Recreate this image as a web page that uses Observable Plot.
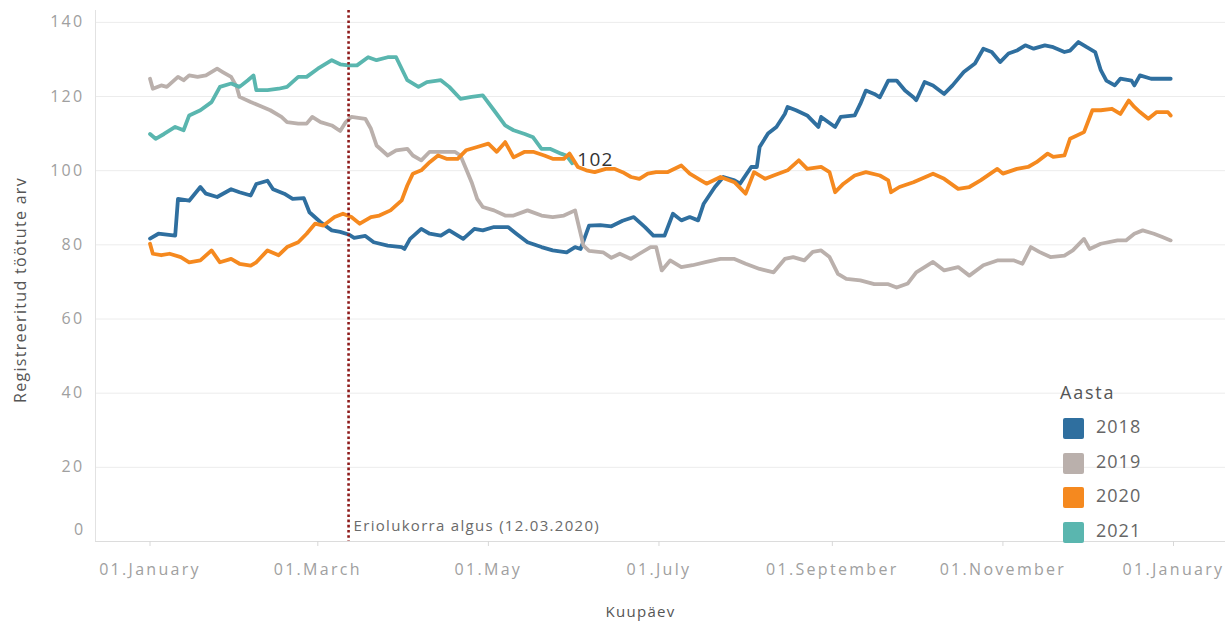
<!DOCTYPE html>
<html>
<head>
<meta charset="utf-8">
<script src="https://cdn.jsdelivr.net/npm/d3@7"></script>
<script src="https://cdn.jsdelivr.net/npm/@observablehq/plot@0.6"></script>
<style>
  body { margin: 0; background: #fff; }
  #wrap { position: relative; width: 1225px; height: 628px; overflow: hidden; }
  g[aria-label$="tick label"] text { letter-spacing: 2.3px; }
  g[aria-label="text"] text { letter-spacing: 1.3px; }
  .lg { position: absolute; font-family: "Open Sans", sans-serif; color: #555; white-space: nowrap; }
</style>
</head>
<body>
<div id="wrap"></div>
<script>
// ---- data (day index within reference year, value) ----
const years = ["2018", "2019", "2020", "2021"];
const colors = ["#2f6f9f", "#bab0ac", "#f5891f", "#5ab6af"];

const days2018 = [0,3,9,10,14,18,20,24,29,32,36,38,42,44,48,51,55,57,61,65,68,71,73,77,80,85,90,91,93,97,100,104,107,112,116,119,123,128,131,135,140,144,149,152,154,157,161,165,169,173,177,180,184,187,190,193,196,198,202,205,209,211,215,217,218,221,224,227,228,231,235,239,240,245,247,252,254,256,259,261,264,267,270,273,274,277,280,284,287,291,295,298,301,304,307,310,313,316,320,323,327,329,332,335,338,340,342,345,347,351,352,354,358,365];
const vals2018 = [81.7,83,82.5,92.4,91.9,95.6,93.8,92.9,95,94.2,93.3,96.4,97.3,95,93.8,92.4,92.6,88.8,86.1,83.9,83.5,82.8,81.9,82.4,80.7,79.8,79.4,78.9,81.6,84.3,83,82.5,83.9,81.6,84.3,83.9,84.8,84.8,83,80.7,79.4,78.5,78,79.4,78.9,85.2,85.3,85,86.5,87.5,84.8,82.5,82.5,88.4,86.6,87.5,86.6,91.1,95.6,98.3,97.4,96.5,101,101,106.4,110,111.8,115.3,117.2,116.3,114.9,111.8,114.5,111.8,114.5,114.9,118,121.6,120.7,119.8,124.3,124.3,121.6,119.8,119,123.9,123,120.7,123,126.6,128.9,132.9,132,129.3,131.6,132.4,133.8,132.9,133.8,133.3,132,132.4,134.7,133.3,132,127.1,124.3,123,124.8,124.3,123,125.7,124.8,124.8];

const days2019 = [0,1,4,6,10,12,14,17,20,24,26,29,31,32,36,39,43,47,49,53,56,58,61,65,68,70,72,77,79,81,85,88,92,94,97,100,104,109,111,113,115,117,119,123,127,130,135,140,144,148,152,153,155,157,162,165,168,172,175,179,181,183,186,190,194,199,204,209,213,218,223,227,230,234,237,240,243,246,249,254,259,264,267,271,274,280,284,289,293,298,303,309,312,315,318,322,327,330,334,336,340,346,349,352,355,359,362,365];
const vals2019 = [124.8,122.1,123,122.6,125.3,124.4,125.7,125.3,125.7,127.5,126.6,125.3,122.6,119.9,118.5,117.6,116.3,114.5,113.1,112.7,112.7,114.5,113.1,112.2,110.7,113.1,114.5,114,111.3,106.8,104.1,105.5,105.9,104.1,102.8,105.1,105.1,105.1,104.1,100.5,96.9,92.4,90.2,89.3,87.9,87.9,89.3,87.9,87.5,87.9,89.3,86.1,79.8,78.4,78,76.5,77.6,76.2,77.6,79.4,79.4,73.1,75.8,74,74.5,75.4,76.2,76.2,74.9,73.5,72.6,76.2,76.7,75.8,78.1,78.5,76.7,72.2,70.8,70.4,69.4,69.4,68.5,69.6,72.6,75.4,73.1,74,71.7,74.5,75.8,75.8,74.9,79.4,78.1,76.7,77.1,78.5,81.6,78.9,80.3,81.2,81.2,83,83.9,83,82.1,81.2];

const days2020 = [0,1,4,7,11,14,18,22,25,29,32,36,38,42,46,49,53,56,59,62,66,69,72,75,79,82,86,90,92,94,97,100,103,106,110,113,117,121,124,127,130,134,137,141,144,148,150,153,156,159,163,166,169,172,175,178,181,185,190,193,197,199,204,209,213,216,220,223,228,232,235,240,243,245,248,252,256,261,264,265,268,273,280,284,289,293,297,303,305,310,314,317,321,323,327,329,334,337,340,344,347,350,352,354,357,360,364,365];
const vals2020 = [80.3,77.6,77.2,77.6,76.7,75.3,75.8,78.5,75.3,76.2,74.9,74.4,75.3,78.5,77.2,79.4,80.7,83,85.7,85.2,87.5,88.4,87.5,85.7,87.5,87.9,89.3,92,96,99.2,100.1,102.3,104.1,103.2,103.2,105.5,106.4,107.3,105.1,107.7,103.6,105.1,105.1,104.1,103.2,103.2,104.6,101,100.1,99.6,100.5,100.5,99.6,98.3,97.8,99.2,99.6,99.6,101.4,99.2,97.4,96.5,98.3,96.9,93.8,99.6,97.8,98.7,100.1,102.8,100.5,101,99.6,94.2,96.5,98.7,99.6,98.7,97.4,94.2,95.6,96.9,99.2,97.8,95.1,95.6,97.4,100.5,99.2,100.5,101,102.3,104.6,103.7,104.1,108.6,110.4,116.3,116.3,116.7,115.3,118.9,117.2,115.8,114,115.8,115.8,114.9];

const days2021 = [0,2,5,9,12,14,18,22,25,29,32,35,37,38,42,46,49,53,56,60,65,68,71,74,78,81,85,88,92,96,99,104,107,111,115,119,123,127,130,134,137,140,143,147,149,151];
const vals2021 = [109.9,108.6,109.9,111.8,110.9,114.9,116.3,118.5,122.6,123.5,122.6,124.4,125.7,121.7,121.7,122.1,122.6,125.3,125.3,127.5,129.8,128.7,128.4,128.4,130.6,129.8,130.6,130.6,124.4,122.6,123.9,124.4,122.6,119.4,119.9,120.3,116.3,112.2,110.9,109.9,109,105.9,105.9,104.6,104,102];

const yTicks = [0, 20, 40, 60, 80, 100, 120, 140];
const xTickDays = [0, 60, 121, 182, 244, 305, 366];   // 01.Jan ... 01.Jan (reference year 2020)
const lockdownDay = 71;                                // 12.03
const lockdownText = "Eriolukorra algus (12.03.2020)";
const xTitle = "Kuupäev";
const yTitle = "Registreeritud töötute arv";
const legendTitle = "Aasta";

// ---- build ----
const base = Date.UTC(2020, 0, 1);
const toDate = d => new Date(base + d * 86400000);
const series = {
  "2018": [days2018, vals2018],
  "2019": [days2019, vals2019],
  "2020": [days2020, vals2020],
  "2021": [days2021, vals2021]
};
const drawOrder = ["2018", "2019", "2021", "2020"];
const rows = drawOrder.flatMap(y => series[y][0].map((d, i) => ({year: y, date: toDate(d), value: series[y][1][i]})));
const last2021 = rows.filter(r => r.year === "2021").slice(-1);

const xDomain = [toDate(-19.5), toDate(384.6)];
const xTicks = xTickDays.map(toDate);
const monthFmt = d3.utcFormat("%d.%B");

const chart = Plot.plot({
  width: 1225,
  height: 628,
  marginLeft: 95,
  marginRight: 0,
  marginTop: 10,
  marginBottom: 87,
  style: {fontFamily: '"Open Sans", sans-serif', fontSize: "16px", color: "#9a9a9a", background: "#fff"},
  x: {type: "utc", domain: xDomain},
  y: {domain: [0, 143.2]},
  color: {domain: years, range: colors},
  marks: [
    Plot.gridY({ticks: yTicks.filter(v => v > 0), stroke: "#ececec", strokeOpacity: 1}),
    Plot.ruleY([0], {stroke: "#dcdcdc"}),
    Plot.ruleX([xDomain[0]], {stroke: "#e2e2e2"}),
    Plot.axisY({ticks: yTicks.filter(v => v > 0), tickSize: 0, tickPadding: 11, label: null, fill: "#a0a0a0"}),
    Plot.text([0], {y: d => d, frameAnchor: "left", dx: -11, dy: -12, textAnchor: "end", fill: "#a0a0a0", fontSize: 16}),
    Plot.axisX({ticks: xTicks, tickSize: 5, stroke: "#d8d8d8", tickFormat: () => "", label: null}),
    Plot.axisX({ticks: xTicks, tickSize: 0, tickPadding: 22, tickFormat: monthFmt, label: null, fill: "#a0a0a0"}),
    Plot.line(rows, {x: "date", y: "value", z: "year", stroke: "year", strokeWidth: 3.8, strokeLinejoin: "round"}),
    Plot.ruleX([toDate(lockdownDay)], {stroke: "#8e1b1b", strokeWidth: 2.6, strokeDasharray: "2.6,2.6"}),
    Plot.text([lockdownText], {x: toDate(lockdownDay), y: 0, dx: 5, dy: -15, textAnchor: "start", fill: "#6a6a6a", fontSize: 15}),
    Plot.text(last2021, {x: "date", y: "value", text: d => String(Math.round(d.value)), dx: 5, dy: -3, textAnchor: "start", fill: "#333", fontSize: 19}),
    Plot.text([yTitle], {frameAnchor: "left", dx: -75, dy: 14, rotate: -90, textAnchor: "middle", lineAnchor: "middle", fill: "#555", fontSize: 16}),
    Plot.text([xTitle], {frameAnchor: "bottom", dx: -20, dy: 71, textAnchor: "middle", lineAnchor: "middle", fill: "#555", fontSize: 15})
  ]
});

const wrap = document.getElementById("wrap");
wrap.appendChild(chart);

// legend (overlaid on the plot area, as in the original)
const lt = document.createElement("div");
lt.className = "lg";
lt.textContent = legendTitle;
Object.assign(lt.style, {left: "1060px", top: "380px", fontSize: "18px", letterSpacing: "1.8px", color: "#555"});
wrap.appendChild(lt);
years.forEach((y, i) => {
  const top = 418 + i * 34.5;
  const sw = document.createElement("div");
  Object.assign(sw.style, {position: "absolute", left: "1063px", top: top + "px", width: "21px", height: "21px", background: colors[i], borderRadius: "2px"});
  wrap.appendChild(sw);
  const lab = document.createElement("div");
  lab.className = "lg";
  lab.textContent = y;
  Object.assign(lab.style, {left: "1096px", top: (top - 4) + "px", fontSize: "18px", letterSpacing: "1px", color: "#666"});
  wrap.appendChild(lab);
});
</script>
</body>
</html>
